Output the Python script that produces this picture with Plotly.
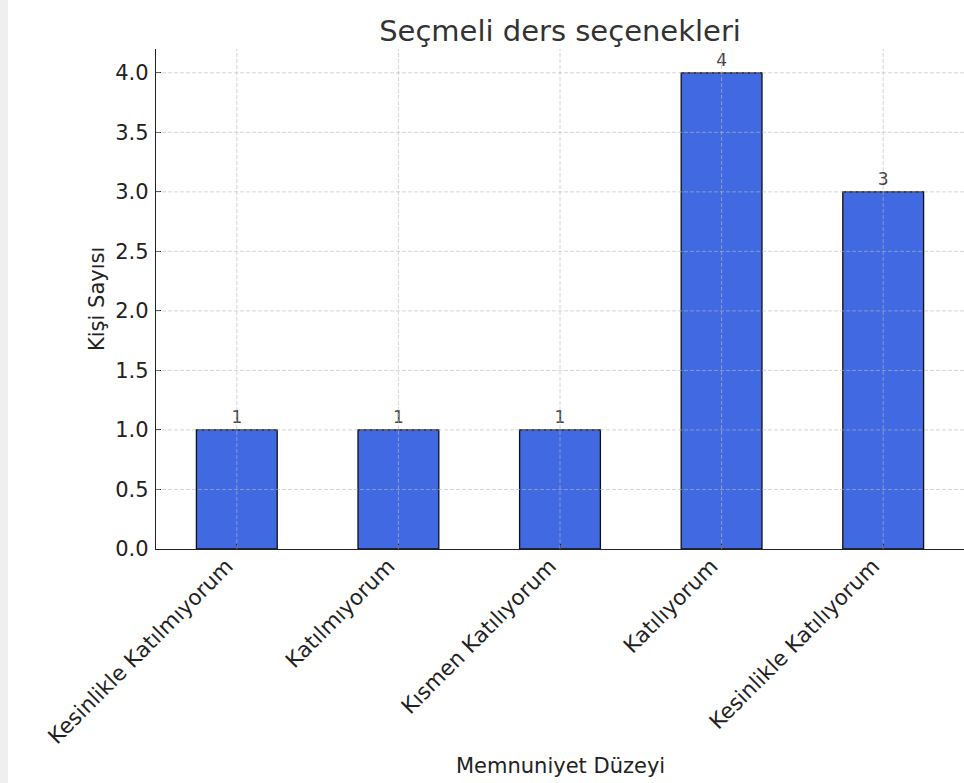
import plotly.graph_objects as go

categories = ["Kesinlikle Katılmıyorum", "Katılmıyorum", "Kısmen Katılıyorum",
              "Katılıyorum", "Kesinlikle Katılıyorum"]
counts = [1, 1, 1, 4, 3]
y_ticks = [0.0, 0.5, 1.0, 1.5, 2.0, 2.5, 3.0, 3.5, 4.0]

title_text = "Seçmeli ders seçenekleri"
x_title = "Memnuniyet Düzeyi"
y_title = "Kişi Sayısı"

FONT = "DejaVu Sans"
W, H = 964, 783
ML, MR, MT, MB = 156, 0, 49, 234
PW, PH = W - ML - MR, H - MT - MB

fig = go.Figure()
fig.add_trace(go.Bar(
    x=categories, y=counts, width=0.5,
    marker=dict(color="#4169E1", line=dict(color="#111111", width=1.3)),
    text=[str(c) for c in counts], textposition="outside",
    textfont=dict(family=FONT, size=17, color="#444444"),
    cliponaxis=False,
))

shapes = []
grid_style = dict(color="rgba(185,185,185,0.6)", width=1, dash="4px,2px")
for c in categories:
    shapes.append(dict(type="line", xref="x", yref="paper", x0=c, x1=c, y0=0, y1=1,
                       line=grid_style, layer="above"))
for t in y_ticks[1:]:
    shapes.append(dict(type="line", xref="paper", yref="y", x0=0, x1=1, y0=t, y1=t,
                       line=grid_style, layer="above"))
# light grey strip at the left edge of the page
shapes.append(dict(type="rect", xref="paper", yref="paper",
                   x0=-ML / PW, x1=(8 - ML) / PW, y0=-MB / PH, y1=1 + MT / PH,
                   fillcolor="#efefef", line=dict(width=0), layer="below"))

fig.update_layout(
    width=W, height=H,
    margin=dict(l=ML, r=MR, t=MT, b=MB, autoexpand=False),
    paper_bgcolor="white", plot_bgcolor="white",
    font=dict(family=FONT, color="#222222"),
    showlegend=False,
    shapes=shapes,
    title=dict(text=title_text, x=ML / W + PW / W / 2, xanchor="center",
               y=1 - 31 / H, yanchor="middle", yref="container",
               font=dict(family=FONT, size=29, color="#333333")),
    annotations=[
        dict(text=x_title, xref="paper", yref="paper", x=0.5, y=(549 - 766) / PH,
             xanchor="center", yanchor="middle", showarrow=False,
             font=dict(family=FONT, size=21, color="#222222")),
        dict(text=y_title, xref="paper", yref="paper", x=(97 - ML) / PW, y=0.5,
             xanchor="center", yanchor="middle", textangle=-90, showarrow=False,
             font=dict(family=FONT, size=21, color="#222222")),
    ],
    bargap=0.5,
)
fig.update_xaxes(
    type="category", range=[-0.5, len(categories) - 0.5],
    showline=True, linecolor="#222222", linewidth=1.3, mirror=False,
    showgrid=False, zeroline=False,
    ticks="inside", ticklen=5, tickcolor="#222222", tickwidth=1.2,
    tickangle=-45, tickfont=dict(family=FONT, size=21.5, color="#222222"),
    ticklabelshift=-10, ticklabelstandoff=-5,
)
fig.update_yaxes(
    range=[0, 4.2], tickvals=y_ticks, tickformat=".1f",
    showline=True, linecolor="#222222", linewidth=1.3,
    showgrid=False, zeroline=False,
    ticks="inside", ticklen=5, tickcolor="#222222", tickwidth=1.2,
    tickfont=dict(family=FONT, size=21, color="#222222"),
    ticklabelstandoff=2,
)

fig.write_html("out.html", config={"displayModeBar": False},
               post_script="document.body.style.margin='0';document.body.style.padding='0';")
